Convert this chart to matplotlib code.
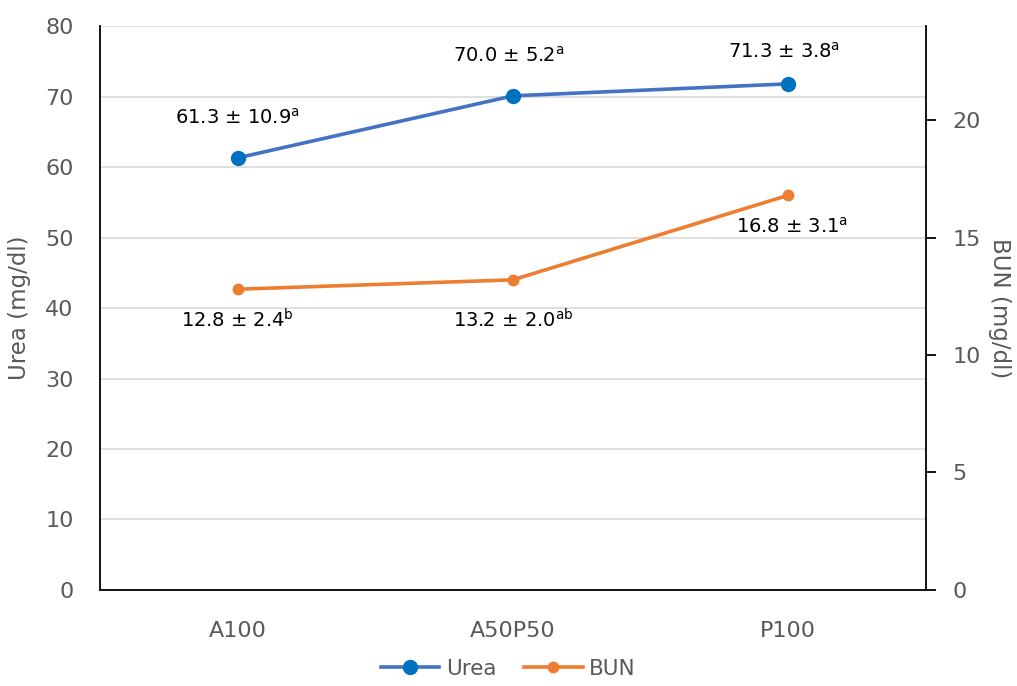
import matplotlib
matplotlib.use("Agg")
import matplotlib.pyplot as plt

categories = ["A100", "A50P50", "P100"]
urea = [61.3, 70.1, 71.8]
bun = [12.8, 13.2, 16.8]
urea_labels = ["61.3 ± 10.9$^{a}$", "70.0 ± 5.2$^{a}$", "71.3 ± 3.8$^{a}$"]
bun_labels = ["12.8 ± 2.4$^{b}$", "13.2 ± 2.0$^{ab}$", "16.8 ± 3.1$^{a}$"]
left_ticks = [0, 10, 20, 30, 40, 50, 60, 70, 80]
right_ticks = [0, 5, 10, 15, 20]

plt.rcParams['font.family'] = ['DejaVu Sans']
plt.rcParams['mathtext.default'] = 'regular'

gray = "#595959"
blue_line = "#4472C4"
blue_mark = "#0070C0"
orange = "#ED7D31"

fig = plt.figure(figsize=(10.17, 6.86), dpi=100)
ax = fig.add_axes([0.0983, 0.14, 0.9105 - 0.0983, 0.962 - 0.14])
ax2 = ax.twinx()

x = list(range(len(categories)))
l1, = ax.plot(x, urea, color=blue_line, lw=2.6, marker='o', ms=10,
              mfc=blue_mark, mec=blue_mark, label="Urea", zorder=3)
l2, = ax2.plot(x, bun, color=orange, lw=2.6, marker='o', ms=7.5,
               mfc=orange, mec=orange, label="BUN", zorder=3)

ax.set_xlim(-0.5, 2.5)
ax.set_ylim(0, 80)
ax2.set_ylim(0, 24)
ax.set_yticks(left_ticks)
ax2.set_yticks(right_ticks)
ax.set_xticks(x)
ax.set_xticklabels(categories)

ax.grid(axis='y', color="#D9D9D9", lw=1.2)
ax.set_axisbelow(True)

for a in (ax, ax2):
    a.spines['top'].set_visible(False)
ax2.spines['left'].set_visible(False)
ax2.spines['bottom'].set_visible(False)
for s in ('left', 'bottom'):
    ax.spines[s].set_color('black')
    ax.spines[s].set_linewidth(1.3)
ax.spines['right'].set_visible(False)
ax2.spines['right'].set_color('black')
ax2.spines['right'].set_linewidth(1.3)

ax.tick_params(axis='y', length=0, pad=19, labelsize=16, labelcolor=gray)
ax.tick_params(axis='x', length=0, pad=22, labelsize=16, labelcolor=gray)
ax2.tick_params(axis='y', length=7, width=1.3, direction='out', pad=12,
                labelsize=16, labelcolor=gray, color='black')

ax.set_ylabel("Urea (mg/dl)", fontsize=16.5, color=gray, labelpad=10)
ax2.set_ylabel("BUN (mg/dl)", fontsize=16.5, color=gray, rotation=270, labelpad=22)

fs = 14
ax.annotate(urea_labels[0], (x[0], urea[0]), xytext=(0, 29), textcoords='offset points',
            ha='center', va='center', fontsize=fs, color='black')
ax.annotate(urea_labels[1], (x[1], urea[1]), xytext=(-3, 29), textcoords='offset points',
            ha='center', va='center', fontsize=fs, color='black')
ax.annotate(urea_labels[2], (x[2], urea[2]), xytext=(-3, 23), textcoords='offset points',
            ha='center', va='center', fontsize=fs, color='black')
ax2.annotate(bun_labels[0], (x[0], bun[0]), xytext=(0, -22), textcoords='offset points',
             ha='center', va='center', fontsize=fs, color='black')
ax2.annotate(bun_labels[1], (x[1], bun[1]), xytext=(0, -29), textcoords='offset points',
             ha='center', va='center', fontsize=fs, color='black')
ax2.annotate(bun_labels[2], (x[2], bun[2]), xytext=(3, -23), textcoords='offset points',
             ha='center', va='center', fontsize=fs, color='black')

leg = fig.legend(handles=[l1, l2], loc='lower center', bbox_to_anchor=(0.5, -0.018),
                 ncol=2, frameon=False, fontsize=15.5, handlelength=2.7,
                 columnspacing=1.3, handletextpad=0.3)
for t in leg.get_texts():
    t.set_color(gray)

fig.savefig("out.png", dpi=100)
